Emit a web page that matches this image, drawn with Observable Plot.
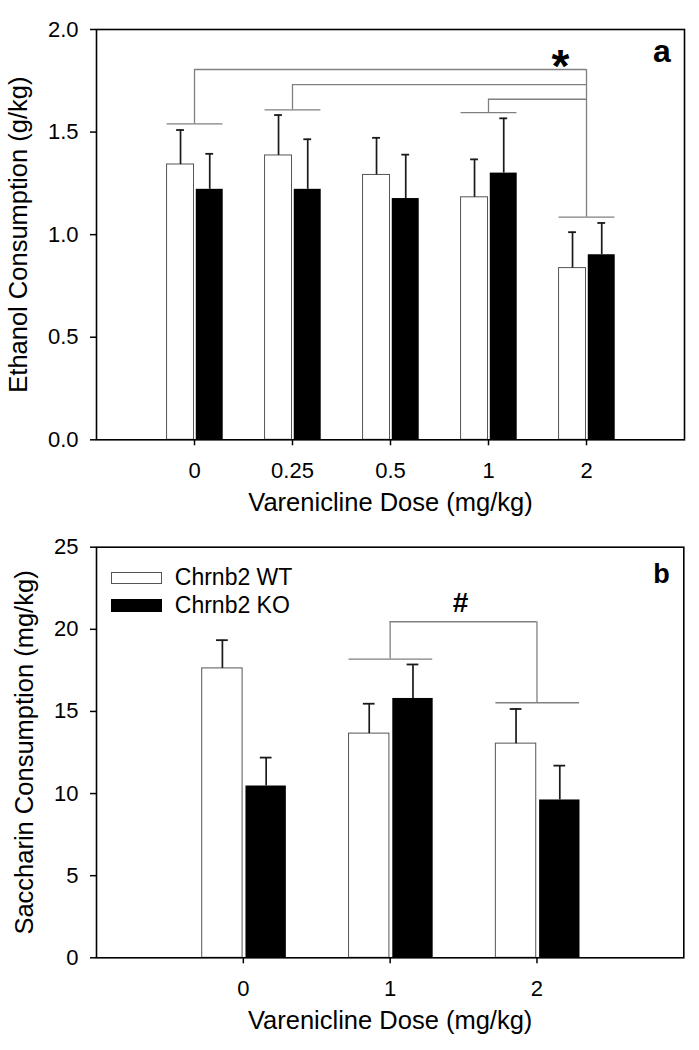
<!DOCTYPE html>
<html>
<head>
<meta charset="utf-8">
<script src="https://cdn.jsdelivr.net/npm/d3@7"></script>
<script src="https://cdn.jsdelivr.net/npm/@observablehq/plot@0.6"></script>
<style>
  html, body { margin: 0; padding: 0; background: #fff; }
  #wrap { position: relative; width: 699px; height: 1050px; overflow: hidden; }
  .panel { position: absolute; left: 0; }
  .lg-row { position: absolute; left: 110.7px; height: 28px; display: flex; align-items: center;
            font-family: "Liberation Sans", Arial, sans-serif; font-size: 23px; line-height: 1; color: #000; }
  .lg-sw { width: 51.6px; height: 12px; box-sizing: border-box; margin-right: 12.5px; }
</style>
</head>
<body>
<div id="wrap"></div>
<script>
// ---------------- data ----------------
const seriesNames = ["Chrnb2 WT", "Chrnb2 KO"];

// Panel a: ethanol
const ethanolDoses = ["0", "0.25", "0.5", "1", "2"];
const ethanolWT    = [1.342, 1.386, 1.291, 1.182, 0.837];
const ethanolWTErr = [0.168, 0.197, 0.181, 0.185, 0.175];
const ethanolKO    = [1.221, 1.221, 1.176, 1.300, 0.902];
const ethanolKOErr = [0.173, 0.244, 0.214, 0.267, 0.155];
const ethanolTicks = [0, 0.5, 1, 1.5, 2];
// significance bracket (ethanol)
const ethSigGroups  = ["0", "0.25", "1"];
const ethSigGroupY  = [1.540, 1.608, 1.595];
const ethSigTopY    = [1.805, 1.731, 1.660];
const ethSigTarget  = "2";
const ethSigTargetY = 1.085;
const ethSigSymbol  = "*";
const ethSigSymbolX = 3.733;   // position along dose index axis
const ethSigSymbolY = 1.868;

// Panel b: saccharin
const saccharinDoses = ["0", "1", "2"];
const saccharinWT    = [17.62, 13.65, 13.04];
const saccharinWTErr = [1.72, 1.82, 2.11];
const saccharinKO    = [10.46, 15.79, 9.61];
const saccharinKOErr = [1.73, 2.07, 2.09];
const saccharinTicks = [0, 5, 10, 15, 20, 25];
const sacSigGroups  = ["1"];
const sacSigGroupY  = [18.19];
const sacSigTopY    = [20.46];
const sacSigTarget  = "2";
const sacSigTargetY = 15.53;
const sacSigSymbol  = "#";
const sacSigSymbolX = 1.48;
const sacSigSymbolY = 21.6;

// ---------------- drawing ----------------
const FONT = '"Liberation Sans", Arial, Helvetica, sans-serif';
const W = 699;

function buildRows(doses, wt, wtErr, ko, koErr) {
  const rows = [];
  doses.forEach((d, i) => {
    rows.push({i, dose: d, geno: seriesNames[0], mean: wt[i], upper: wt[i] + wtErr[i], x1: i - 0.28, x2: i - 0.005});
    rows.push({i, dose: d, geno: seriesNames[1], mean: ko[i], upper: ko[i] + koErr[i], x1: i + 0.018, x2: i + 0.293});
  });
  rows.forEach(r => r.xc = (r.x1 + r.x2) / 2);
  return rows;
}

function buildBrackets(doses, groups, groupY, topY, target, targetY) {
  const t = doses.indexOf(target);
  const hLines = groups.map((g, k) => ({x1: doses.indexOf(g) - 0.28, x2: doses.indexOf(g) + 0.29, y: groupY[k]}));
  hLines.push({x1: t - 0.28, x2: t + 0.29, y: targetY});
  const vLines = groups.map((g, k) => ({x: doses.indexOf(g), y1: groupY[k], y2: topY[k]}));
  vLines.push({x: t, y1: targetY, y2: d3.max(topY)});
  const tops = groups.map((g, k) => ({x1: doses.indexOf(g), x2: t, y: topY[k]}));
  return {hLines: hLines.concat(tops), vLines};
}

function panel(o) {
  const n = o.doses.length;
  const rows = buildRows(o.doses, o.wt, o.wtErr, o.ko, o.koErr);
  const br = buildBrackets(o.doses, o.sigGroups, o.sigGroupY, o.sigTopY, o.sigTarget, o.sigTargetY);
  return Plot.plot({
    width: W, height: 525,
    marginTop: o.mt, marginBottom: o.mb, marginLeft: 96, marginRight: o.mr,
    style: {fontFamily: FONT, fontSize: "22px", color: "#000", background: "transparent", overflow: "visible"},
    x: {type: "linear", domain: [-1, n], axis: null},
    y: {type: "linear", domain: o.yDomain, axis: null},
    marks: [
      // bracket lines
      Plot.ruleY(br.hLines, {x1: "x1", x2: "x2", y: "y", stroke: "#808080", strokeWidth: 1.3}),
      Plot.ruleX(br.vLines, {x: "x", y1: "y1", y2: "y2", stroke: "#808080", strokeWidth: 1.3}),
      // bars
      Plot.rectY(rows.filter(r => r.geno === seriesNames[0]), {x1: "x1", x2: "x2", y: "mean", fill: "white", stroke: "#555", strokeWidth: 1}),
      Plot.rectY(rows.filter(r => r.geno === seriesNames[1]), {x1: "x1", x2: "x2", y: "mean", fill: "black"}),
      // error bars (upper only)
      Plot.ruleX(rows, {x: "xc", y1: "mean", y2: "upper", stroke: "#1a1a1a", strokeWidth: 1.7}),
      Plot.ruleY(rows, {y: "upper", x1: r => r.xc - 0.04, x2: r => r.xc + 0.04, stroke: "#1a1a1a", strokeWidth: 1.8}),
      // significance symbol
      Plot.text([o.sigSymbol], {text: d => d, x: () => o.sigSymbolX, y: () => o.sigSymbolY,
        fontSize: o.sigSize, fontWeight: "bold", lineAnchor: "middle", dy: o.sigDy, fill: "#000"}),
      // axes
      Plot.axisY({ticks: o.yTicks, tickFormat: o.yFormat, tickSize: 6, tickPadding: 12, label: null, strokeWidth: 1.5}),
      Plot.axisX({ticks: d3.range(n), tickFormat: i => o.doses[i], tickSize: 6, tickPadding: 16.5, label: null, strokeWidth: 1.5}),
      Plot.frame({stroke: "#000", strokeWidth: 1.6}),
      // titles
      Plot.text([o.xTitle], {text: d => d, frameAnchor: "bottom", dy: 70.7, lineAnchor: "bottom", textAnchor: "middle", fontSize: 25.5}),
      Plot.text([o.yTitle], {text: d => d, frameAnchor: "left", rotate: -90, dx: o.yTitleDx, lineAnchor: "top", textAnchor: "middle", fontSize: 25.5}),
      // panel letter
      Plot.text([o.letter], {text: d => d, frameAnchor: "top-right", dx: o.letterDx, dy: o.letterDy, lineAnchor: "top", textAnchor: "end", fontSize: o.letterSize, fontWeight: "bold"})
    ]
  });
}

const wrap = document.getElementById("wrap");

const svgA = panel({
  doses: ethanolDoses, wt: ethanolWT, wtErr: ethanolWTErr, ko: ethanolKO, koErr: ethanolKOErr,
  yDomain: [0, 2], yTicks: ethanolTicks, yFormat: d3.format(".1f"),
  mt: 29, mb: 85.7, mr: 15,
  sigGroups: ethSigGroups, sigGroupY: ethSigGroupY, sigTopY: ethSigTopY, sigTarget: ethSigTarget, sigTargetY: ethSigTargetY,
  sigSymbol: ethSigSymbol, sigSymbolX: ethSigSymbolX, sigSymbolY: ethSigSymbolY, sigSize: 46, sigDy: 11,
  xTitle: "Varenicline Dose (mg/kg)", yTitle: "Ethanol Consumption (g/kg)", yTitleDx: -88,
  letter: "a", letterSize: 32, letterDx: -13.7, letterDy: 9.8
});
const boxA = document.createElement("div"); boxA.className = "panel"; boxA.style.top = "0px";
boxA.appendChild(svgA); wrap.appendChild(boxA);

const svgB = panel({
  doses: saccharinDoses, wt: saccharinWT, wtErr: saccharinWTErr, ko: saccharinKO, koErr: saccharinKOErr,
  yDomain: [0, 25], yTicks: saccharinTicks, yFormat: d3.format("d"),
  mt: 21.7, mb: 92.7, mr: 15.7,
  sigGroups: sacSigGroups, sigGroupY: sacSigGroupY, sigTopY: sacSigTopY, sigTarget: sacSigTarget, sigTargetY: sacSigTargetY,
  sigSymbol: sacSigSymbol, sigSymbolX: sacSigSymbolX, sigSymbolY: sacSigSymbolY, sigSize: 28, sigDy: 0,
  xTitle: "Varenicline Dose (mg/kg)", yTitle: "Saccharin Consumption (mg/kg)", yTitleDx: -82,
  letter: "b", letterSize: 27, letterDx: -14, letterDy: 16.5
});
const boxB = document.createElement("div"); boxB.className = "panel"; boxB.style.top = "525px";
boxB.appendChild(svgB); wrap.appendChild(boxB);

// legend for panel b (inside the frame)
const legendTops = [563.5, 591.5];
seriesNames.forEach((name, k) => {
  const row = document.createElement("div");
  row.className = "lg-row";
  row.style.top = legendTops[k] + "px";
  const sw = document.createElement("span");
  sw.className = "lg-sw";
  sw.style.background = k === 0 ? "#fff" : "#000";
  sw.style.border = k === 0 ? "1px solid #555" : "none";
  if (k === 1) sw.style.height = "12.4px";
  const tx = document.createElement("span");
  tx.textContent = name;
  row.appendChild(sw); row.appendChild(tx);
  wrap.appendChild(row);
});
</script>
</body>
</html>
